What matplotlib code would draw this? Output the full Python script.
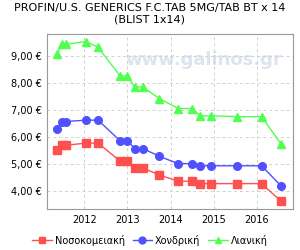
import matplotlib
matplotlib.use("Agg")
import matplotlib.pyplot as plt
from matplotlib.ticker import FuncFormatter

# dates as decimal years
dates = [2011.375, 2011.48, 2011.58, 2012.04, 2012.32, 2012.83, 2013.00, 2013.17,
         2013.36, 2013.74, 2014.18, 2014.50, 2014.69, 2014.94, 2015.54, 2016.11, 2016.56]
hospital = [5.51, 5.69, 5.69, 5.77, 5.77, 5.11, 5.11, 4.85, 4.85, 4.59, 4.36, 4.36,
            4.27, 4.27, 4.27, 4.27, 3.62]
wholesale = [6.31, 6.57, 6.57, 6.62, 6.62, 5.86, 5.86, 5.57, 5.57, 5.28, 5.01, 5.01,
             4.93, 4.93, 4.93, 4.93, 4.19]
retail = [9.07, 9.43, 9.43, 9.53, 9.32, 8.26, 8.26, 7.85, 7.85, 7.42, 7.05, 7.05,
          6.78, 6.78, 6.75, 6.75, 5.74]
labels = ["Νοσοκομειακή", "Χονδρική", "Λιανική"]
years = [2012, 2013, 2014, 2015, 2016]
yticks = [4, 5, 6, 7, 8, 9]

plt.rcParams['font.family'] = ['DejaVu Sans']
fig = plt.figure(figsize=(3, 2.5), dpi=100)
ax = fig.add_axes([0.157, 0.164, 0.82, 0.70])

ax.text(0.635, 0.85, "www.galinos.gr", transform=ax.transAxes, ha="center", va="center",
        fontsize=13, color="#dde4ef", fontweight="bold", zorder=0)

ax.plot(dates, hospital, color="#ff5050", marker="s", markersize=5.5, lw=1, label=labels[0], zorder=3)
ax.plot(dates, wholesale, color="#5050ff", marker="o", markersize=5.5, lw=1, label=labels[1], zorder=3)
ax.plot(dates, retail, color="#50ff50", marker="^", markersize=5.5, lw=1, label=labels[2], zorder=3)

ax.set_xlim(2011.14, 2016.84)
ax.set_ylim(3.33, 9.81)
ax.set_xticks(years)
ax.set_xticklabels([str(y) for y in years])
ax.set_yticks(yticks)
ax.yaxis.set_major_formatter(FuncFormatter(lambda v, p: ("%.2f €" % v).replace(".", ",")))
ax.tick_params(labelsize=7, length=0, pad=4)
ax.grid(True, color="#d0d0d0", linestyle=(0, (3, 3)), lw=0.7)
for s in ax.spines.values():
    s.set_color("#999999")

fig.suptitle("PROFIN/U.S. GENERICS F.C.TAB 5MG/TAB BT x 14\n(BLIST 1x14)",
             fontsize=8, y=0.99, va="top", linespacing=1.25)
fig.legend(loc="center", bbox_to_anchor=(0.5, 0.04), ncol=3, fontsize=7, frameon=False,
           handlelength=2, handletextpad=0.3, columnspacing=0.8, markerscale=0.9)

fig.savefig("out.png", dpi=100)
